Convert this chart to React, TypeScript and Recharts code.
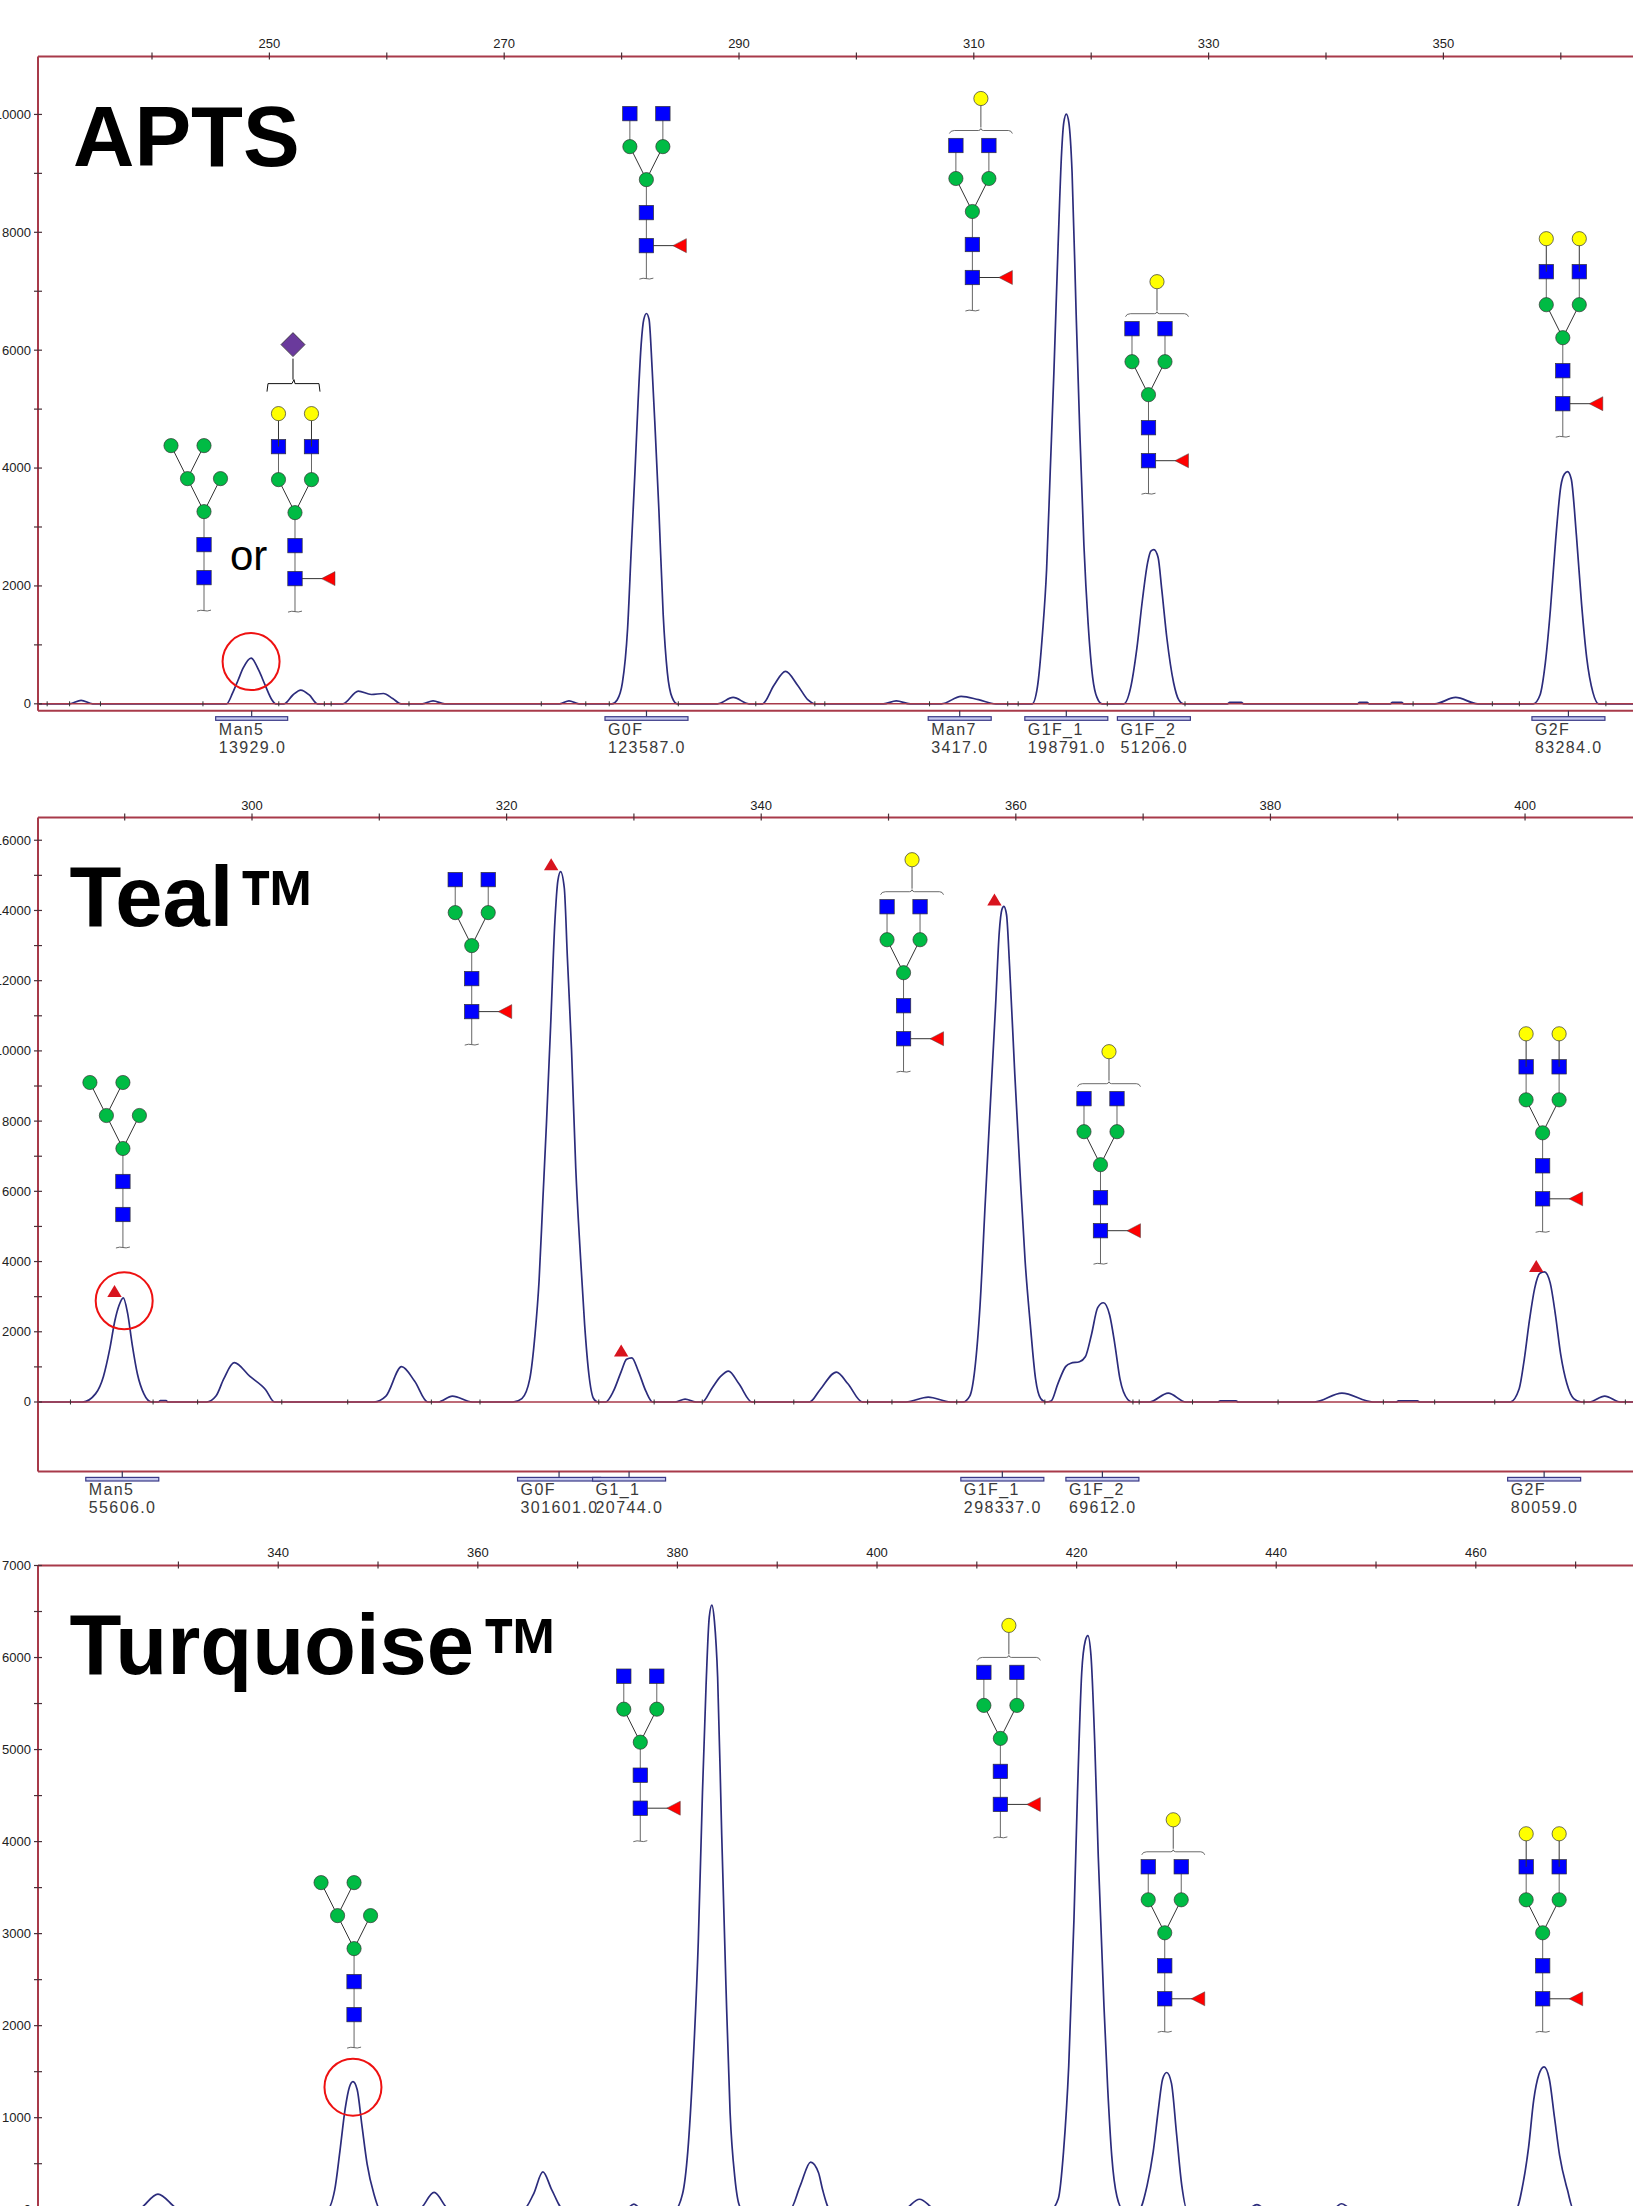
import React from "react";
import { LineChart, Line, XAxis, YAxis, ReferenceLine, ReferenceDot } from "recharts";

type Pt = [number, number];

const aptsTrace: Pt[] = [
  [230.3,0],[232.98,0],[233.96,58],[234.94,0],[246.35,0],[246.88,190],[247.33,400],[247.77,608],[248.44,775],[249.1,566],[249.64,316],[250.22,66],[250.53,0],
  [251.25,0],[252.0,150],[252.67,233],[253.4,150],[254.1,0],[256.24,0],[257.57,216],[258.69,158],[259.71,175],[260.5,90],[261.22,0],[263.03,0],[263.94,50],[264.94,0],
  [274.72,0],[275.52,50],[276.37,0],[279.18,0],[279.62,66],[280.07,358],[280.51,1274],[280.82,2607],[281.14,3940],[281.4,5106],[281.67,6106],[281.89,6522],[282.12,6622],[282.34,6522],[282.6,5689],[282.87,4606],[283.18,3274],[283.54,1524],[283.9,525],[284.3,108],[284.74,0],
  [288.17,0],[289.5,108],[290.85,0],[292.0,0],[292.98,316],[293.96,550],[294.99,316],[295.88,66],[296.46,0],[302.3,0],[303.4,50],[304.59,0],[307.24,0],[308.92,125],[310.4,70],[311.88,0],
  [314.97,0],[315.41,275],[315.85,1191],[316.2,2274],[316.51,3940],[316.82,5606],[317.18,7772],[317.48,9355],[317.66,9855],[317.88,10004],[318.1,9855],[318.37,9022],[318.72,6606],[319.03,4606],[319.38,2691],[319.74,1358],[320.13,441],[320.49,108],[320.93,0],
  [322.78,0],[323.36,275],[323.89,941],[324.37,1774],[324.81,2399],[325.08,2591],[325.34,2616],[325.7,2482],[326.01,1941],[326.45,1108],[327.02,358],[327.46,66],[327.86,0],
  [331.61,0],[331.8,25],[332.8,25],[332.98,0],[342.7,0],[342.85,25],[343.5,25],[343.67,0],[345.48,0],[345.65,25],[346.45,25],[346.62,0],[349.27,0],[351.04,108],[352.94,0],
  [357.66,0],[358.23,150],[358.68,691],[359.12,1608],[359.56,2774],[360.0,3690],[360.31,3898],[360.58,3940],[360.89,3815],[361.33,2857],[361.77,1691],[362.21,775],[362.74,190],[363.23,0],[366.2,0],
];

const tealTrace: Pt[] = [
  [283.2,0],[286.69,0],[287.72,238],[288.33,727],[288.82,1497],[289.24,2336],[289.56,2756],[289.89,2966],[290.22,2546],[290.59,1637],[291.0,797],[291.5,238],[292.11,0],[292.65,0],[292.8,40],[293.25,40],[293.39,0],
  [296.43,0],[297.17,168],[297.78,657],[298.6,1119],[299.84,727],[301.07,350],[301.77,0],[309.57,0],[310.52,168],[311.75,1007],[312.78,588],[313.8,0],[314.63,0],[315.74,168],[317.3,0],
  [320.5,0],[321.2,98],[321.82,657],[322.23,1917],[322.55,3455],[322.84,5694],[323.13,7932],[323.46,10730],[323.79,13668],[324.03,14857],[324.24,15109],[324.53,14647],[324.77,12689],[325.1,10031],[325.43,6673],[325.8,4155],[326.13,2196],[326.46,797],[326.83,98],[327.16,0],
  [327.77,0],[328.39,308],[329.0,867],[329.42,1217],[329.83,1259],[330.36,867],[330.94,308],[331.47,0],[333.24,0],[334.02,84],[334.88,0],[335.37,0],[336.11,378],[336.81,727],[337.43,881],[338.25,518],[339.28,0],
  [343.8,0],[344.62,350],[345.91,853],[346.81,518],[347.95,0],[351.37,0],[353.12,140],[354.87,0],
  [355.85,0],[356.38,168],[356.78,937],[357.19,2756],[357.6,5694],[358.0,8492],[358.41,11290],[358.7,13388],[358.9,14018],[359.06,14116],[359.27,13878],[359.51,12409],[359.92,9331],[360.33,6533],[360.73,4015],[361.14,2196],[361.55,657],[361.95,98],[362.36,0],
  [362.77,28],[363.3,518],[363.91,1007],[364.32,1105],[365.0,1147],[365.46,1287],[365.94,1917],[366.43,2686],[366.88,2826],[367.37,2476],[367.78,1637],[368.18,657],[368.79,70],[369.12,0],
  [370.5,0],[371.97,252],[373.36,0],[375.88,0],[376.05,30],[377.3,30],[377.47,0],[383.45,0],[385.61,252],[388.05,0],[389.89,0],[390.05,30],[391.55,30],[391.72,0],
  [398.84,0],[399.54,378],[399.94,1217],[400.35,2336],[400.76,3245],[401.17,3665],[401.53,3707],[401.98,3385],[402.39,2476],[402.8,1357],[403.29,518],[403.82,98],[404.43,0],[405.04,0],[406.26,168],[407.48,0],[408.7,0],
];

const turquoiseTrace: Pt[] = [
  [315.9,0],[325.85,0],[327.95,170],[330.2,0],[344.87,0],[345.66,216],[346.18,634],[346.71,1098],[347.13,1331],[347.49,1391],[347.91,1307],[348.39,913],[348.91,495],[349.59,170],[350.22,0],
  [354.05,0],[355.62,188],[357.19,0],[364.53,0],[365.58,170],[366.52,411],[367.41,216],[368.62,0],[374.75,0],[375.64,60],[376.48,0],
  [379.73,0],[380.51,170],[381.04,634],[381.56,1563],[382.09,2909],[382.51,4535],[382.87,5696],[383.19,6439],[383.45,6569],[383.71,6393],[384.03,5789],[384.44,4070],[384.86,2445],[385.28,1052],[385.75,355],[386.28,30],[386.65,0],
  [391.26,0],[392.31,262],[393.35,518],[394.14,402],[394.55,216],[395.32,0],[402.6,0],[404.26,114],[405.97,0],
  [417.39,0],[418.17,123],[418.69,634],[419.21,1563],[419.73,3141],[420.09,4535],[420.51,5835],[420.87,6183],[421.13,6239],[421.44,6021],[421.81,5092],[422.17,3838],[422.74,2213],[423.11,1331],[423.52,585],[424.04,144],[424.67,0],
  [426.23,0],[427.06,262],[427.68,634],[428.2,1098],[428.62,1421],[429.03,1491],[429.5,1375],[430.02,817],[430.54,262],[431.06,0],[437.03,0],[438.07,56],[439.01,0],[445.6,0],[446.54,65],[447.68,0],
  [463.99,0],[464.77,308],[465.29,680],[465.8,1191],[466.32,1469],[466.84,1553],[467.36,1423],[467.88,1005],[468.4,587],[469.18,216],[469.8,0],[475.8,0],
];

const aptsXTicks = [240,250,260,270,280,290,300,310,320,330,340,350,360];
const aptsXLabels = [250,270,290,310,330,350];
const aptsYTicks = [0,1000,2000,3000,4000,5000,6000,7000,8000,9000,10000];
const aptsYLabels = [0,2000,4000,6000,8000,10000];

const tealXTicks = [290,300,310,320,330,340,350,360,370,380,390,400];
const tealXLabels = [300,320,340,360,380,400];
const tealYTicks = [0,1000,2000,3000,4000,5000,6000,7000,8000,9000,10000,11000,12000,13000,14000,15000,16000];
const tealYLabels = [0,2000,4000,6000,8000,10000,12000,14000,16000];

const turqXTicks = [330,340,350,360,370,380,390,400,410,420,430,440,450,460,470];
const turqXLabels = [340,360,380,400,420,440,460];
const turqYTicks = [0,500,1000,1500,2000,2500,3000,3500,4000,4500,5000,5500,6000,6500,7000];
const turqYLabels = [0,1000,2000,3000,4000,5000,6000,7000];

const aptsPeaks = [
  { name: "Man5", area: "13929.0", rt: 248.49, bar: 72 },
  { name: "G0F", area: "123587.0", rt: 282.12, bar: 83 },
  { name: "Man7", area: "3417.0", rt: 308.8, bar: 63 },
  { name: "G1F_1", area: "198791.0", rt: 317.88, bar: 83 },
  { name: "G1F_2", area: "51206.0", rt: 325.34, bar: 73 },
  { name: "G2F", area: "83284.0", rt: 360.65, bar: 73 },
];
const tealPeaks = [
  { name: "Man5", area: "55606.0", rt: 289.81, bar: 73 },
  { name: "G0F", area: "301601.0", rt: 324.12, bar: 83 },
  { name: "G1_1", area: "20744.0", rt: 329.62, bar: 73 },
  { name: "G1F_1", area: "298337.0", rt: 358.94, bar: 83 },
  { name: "G1F_2", area: "69612.0", rt: 366.8, bar: 73 },
  { name: "G2F", area: "80059.0", rt: 401.5, bar: 73 },
];

const aptsBaseTicks = [231.07,232.98,235.61,244.34,250.8,254.68,255.26,261.89,273.16,276.95,278.95,284.83,291.43,296.46,297.31,306.23,312.89,313.78,321.37,327.99,347.42,354.17,356.47,363.84];
const tealBaseTicks = [285.74,292.23,295.73,302.34,307.52,314.09,317.91,327.24,331.59,335.37,339.48,342.56,348.36,350.27,355.36,362.28,369.2,369.69,373.88,380.6,388.87,392.9,397.62,404.63,407.88];

const tealMarkers: Pt[] = [[289.2,3148],[323.5,15305],[329.0,1455],[358.32,14298],[400.88,3861]];

const aptsCircle: Pt = [248.44,716];
const tealCircle: Pt = [289.96,2882];
const turqCircle: Pt = [347.49,1331];

type G = { kind: string; at: Pt };
const aptsGlycans: G[] = [
  { kind: "man5", at: [244.43,2141] },
  { kind: "sialyl", at: [252.18,2124] },
  { kind: "g0f", at: [282.11,7774] },
  { kind: "g1f", at: [309.88,7233] },
  { kind: "g1f", at: [324.88,4125] },
  { kind: "g2f", at: [360.17,5092] },
];
const tealGlycans: G[] = [
  { kind: "man5", at: [289.86,5340] },
  { kind: "g0f", at: [317.26,11119] },
  { kind: "g1f", at: [351.18,10347] },
  { kind: "g1f", at: [366.65,4879] },
  { kind: "g2f", at: [401.38,5787] },
];
const turqGlycans: G[] = [
  { kind: "man5", at: [347.6,2120] },
  { kind: "g0f", at: [376.28,4363] },
  { kind: "g1f", at: [412.36,4404] },
  { kind: "g1f", at: [428.83,2292] },
  { kind: "g2f", at: [466.7,2292] },
];

const titles = [
  { text: "APTS", x: 73, y: 165.5, mark: false, markX: 0 },
  { text: "Teal", x: 69.6, y: 925.7, mark: true, markX: 237.5 },
  { text: "Turquoise", x: 69.6, y: 1673.6, mark: true, markX: 480.5 },
];

const FRAME = "#a83a4a";
const TRACE = "#2c2c7c";
const LABEL_FONT = "'Liberation Sans', Arial, sans-serif";

const Sq = ({ x, y }: { x: number; y: number }) => (
  <rect x={x - 7.2} y={y - 7.2} width={14.4} height={14.4} fill="#0000ff" stroke="#333" strokeWidth={0.7} />
);
const Ci = ({ x, y, c }: { x: number; y: number; c: string }) => (
  <circle cx={x} cy={y} r={7.1} fill={c} stroke="#333" strokeWidth={0.7} />
);
const GREEN = "#00bb44";
const YELLOW = "#ffff00";

function Glycan({ cx, cy, kind }: { cx: number; cy: number; kind: string }) {
  const line = (x1: number, y1: number, x2: number, y2: number, k = "#333") => (
    <line x1={x1} y1={y1} x2={x2} y2={y2} stroke={k} strokeWidth={1} />
  );
  const isMan = kind === "man5";
  const hasFuc = kind !== "man5";
  return (
    <g transform={`translate(${cx},${cy})`}>
      {line(0, 33, 0, -66, "#666")}
      <path d="M-7 33.5 Q-3 32 0 33 Q3 34 7 32.5" fill="none" stroke="#444" strokeWidth={0.8} />
      {hasFuc && line(0, 0, 28, 0)}
      {hasFuc && <polygon points="26.5,0 40,-7 40,7" fill="#ff0000" stroke="#444" strokeWidth={0.5} />}
      {line(0, -66, -16.5, -99)}
      {line(0, -66, 16.5, -99)}
      {isMan && line(-16.5, -99, -33, -132)}
      {isMan && line(-16.5, -99, 0, -132)}
      {!isMan && line(-16.5, -99, -16.5, -132, "#666")}
      {!isMan && line(16.5, -99, 16.5, -132, "#666")}
      <Sq x={0} y={0} />
      <Sq x={0} y={-33} />
      <Ci x={0} y={-66} c={GREEN} />
      <Ci x={-16.5} y={-99} c={GREEN} />
      <Ci x={16.5} y={-99} c={GREEN} />
      {isMan && <Ci x={-33} y={-132} c={GREEN} />}
      {isMan && <Ci x={0} y={-132} c={GREEN} />}
      {!isMan && <Sq x={-16.5} y={-132} />}
      {!isMan && <Sq x={16.5} y={-132} />}
      {(kind === "g2f" || kind === "sialyl") && (
        <g>
          {line(-16.5, -132, -16.5, -165)}
          {line(16.5, -132, 16.5, -165)}
          <Ci x={-16.5} y={-165} c={YELLOW} />
          <Ci x={16.5} y={-165} c={YELLOW} />
        </g>
      )}
      {kind === "g1f" && (
        <g>
          <path d="M-23 -144 Q-22 -147 -18 -147 L6 -147 Q8 -147 8.5 -149 Q9 -147 11 -147 L36 -147 Q39 -147 40 -144" fill="none" stroke="#444" strokeWidth={0.8} />
          {line(8.5, -150, 8.5, -172, "#555")}
          <Ci x={8.5} y={-179} c={YELLOW} />
        </g>
      )}
      {kind === "sialyl" && (
        <g>
          <path d="M-28 -187 L-27 -195 L-3 -195 L-1 -199 L0 -195 L24 -195 L25 -187" fill="none" stroke="#111" strokeWidth={1} />
          {line(-2, -199, -2, -220, "#111")}
          <polygon points="-2,-246 10,-234 -2,-222 -14,-234" fill="#6a3a9c" stroke="#333" strokeWidth={0.8} />
        </g>
      )}
    </g>
  );
}

function PeakLabel({ cx, cy, name, area, bar }: { cx: number; cy: number; name: string; area: string; bar: number }) {
  const left = cx - bar / 2;
  const textStyle = { fontFamily: LABEL_FONT, fontSize: 16, letterSpacing: 1.4, fill: "#3a3a3a" };
  return (
    <g>
      <line x1={cx} y1={cy} x2={cx} y2={cy + 6} stroke="#335" strokeWidth={1.2} />
      <rect x={left} y={cy + 6} width={bar} height={3.6} fill="#c4c8ee" stroke="#3a3a88" strokeWidth={1.2} />
      <text x={left + 3} y={cy + 24} {...textStyle}>{name}</text>
      <text x={left + 3} y={cy + 42} {...textStyle}>{area}</text>
    </g>
  );
}

function XTick({ x, y, payload, labels }: any) {
  const show = labels.includes(payload.value);
  return (
    <g>
      <line x1={x} y1={y - 4} x2={x} y2={y + 3} stroke="#4a3038" strokeWidth={1.2} />
      {show && (
        <text x={x} y={y - 11.5} textAnchor="middle" dominantBaseline="middle" fontFamily={LABEL_FONT} fontSize={13} fill="#222">
          {payload.value}
        </text>
      )}
    </g>
  );
}

function YTick({ x, y, payload, labels }: any) {
  const show = labels.includes(payload.value);
  return (
    <g>
      <line x1={x - 4} y1={y} x2={x + 4} y2={y} stroke="#4a3038" strokeWidth={1.2} />
      {show && (
        <text x={x - 7} y={y + 1} textAnchor="end" dominantBaseline="middle" fontFamily={LABEL_FONT} fontSize={13} fill="#222">
          {payload.value}
        </text>
      )}
    </g>
  );
}

type PanelProps = {
  top: number;
  height: number;
  axisTop: number;
  marginBottom: number;
  xDomain: [number, number];
  yDomain: [number, number];
  trace: Pt[];
  xTicks: number[];
  xLabels: number[];
  yTicks: number[];
  yLabels: number[];
  peaks?: { name: string; area: string; rt: number; bar: number }[];
  baseTicks?: number[];
  markers?: Pt[];
  circle: Pt;
  glycans: G[];
};

function Panel(p: PanelProps) {
  const rows = p.trace.map(([t, s]) => ({ t, s }));
  return (
    <div style={{ position: "absolute", left: 0, top: p.top }}>
      <LineChart width={1633} height={p.height} data={rows} margin={{ top: 0, right: 0, bottom: p.marginBottom, left: 0 }}>
        <XAxis
          dataKey="t"
          type="number"
          orientation="top"
          height={p.axisTop}
          domain={p.xDomain}
          allowDataOverflow
          ticks={p.xTicks}
          interval={0}
          tickLine={false}
          tickSize={0}
          tickMargin={0}
          axisLine={{ stroke: FRAME, strokeWidth: 2 }}
          tick={<XTick labels={p.xLabels} />}
        />
        <YAxis
          type="number"
          width={38}
          domain={p.yDomain}
          allowDataOverflow
          ticks={p.yTicks}
          interval={0}
          tickLine={false}
          tickSize={0}
          tickMargin={0}
          axisLine={{ stroke: FRAME, strokeWidth: 2 }}
          tick={<YTick labels={p.yLabels} />}
        />
        <Line dataKey="s" type="monotone" stroke={TRACE} strokeWidth={1.7} dot={false} isAnimationActive={false} />
        <ReferenceLine y={0} stroke={FRAME} strokeWidth={1.5} />
        <ReferenceLine y={p.yDomain[0]} stroke={FRAME} strokeWidth={2} ifOverflow="visible" />
        {(p.baseTicks || []).map((t) => (
          <ReferenceDot
            key={`b${t}`}
            x={t}
            y={0}
            ifOverflow="visible"
            shape={(s: any) => <line x1={s.cx} y1={s.cy - 2.5} x2={s.cx} y2={s.cy + 2.5} stroke="#333" strokeWidth={1} />}
          />
        ))}
        {(p.peaks || []).map((k) => (
          <ReferenceDot
            key={k.name}
            x={k.rt}
            y={p.yDomain[0]}
            ifOverflow="visible"
            shape={(s: any) => <PeakLabel cx={s.cx} cy={s.cy} name={k.name} area={k.area} bar={k.bar} />}
          />
        ))}
        {(p.markers || []).map(([t, v]) => (
          <ReferenceDot
            key={`m${t}`}
            x={t}
            y={v}
            ifOverflow="visible"
            shape={(s: any) => (
              <polygon points={`${s.cx},${s.cy - 6.5} ${s.cx + 7.2},${s.cy + 5.5} ${s.cx - 7.2},${s.cy + 5.5}`} fill="#d8141e" />
            )}
          />
        ))}
        <ReferenceDot
          x={p.circle[0]}
          y={p.circle[1]}
          ifOverflow="visible"
          shape={(s: any) => <circle cx={s.cx} cy={s.cy} r={28.5} fill="none" stroke="#ee1111" strokeWidth={2} />}
        />
        {p.glycans.map((g, i) => (
          <ReferenceDot
            key={`g${i}`}
            x={g.at[0]}
            y={g.at[1]}
            ifOverflow="visible"
            shape={(s: any) => <Glycan cx={s.cx} cy={s.cy} kind={g.kind} />}
          />
        ))}
      </LineChart>
    </div>
  );
}

export default function App() {
  return (
    <div style={{ position: "absolute", left: 0, top: 0, width: 1633, height: 2206, overflow: "hidden", background: "#fff" }}>
      <Panel
        top={0}
        height={770}
        axisTop={56.5}
        marginBottom={59.3}
        xDomain={[230.29, 366.15]}
        yDomain={[-117, 10983]}
        trace={aptsTrace}
        xTicks={aptsXTicks}
        xLabels={aptsXLabels}
        yTicks={aptsYTicks}
        yLabels={aptsYLabels}
        peaks={aptsPeaks}
        baseTicks={aptsBaseTicks}
        circle={aptsCircle}
        glycans={aptsGlycans}
      />
      <Panel
        top={780}
        height={750}
        axisTop={37.6}
        marginBottom={58.6}
        xDomain={[283.19, 408.48]}
        yDomain={[-1977, 16645]}
        trace={tealTrace}
        xTicks={tealXTicks}
        xLabels={tealXLabels}
        yTicks={tealYTicks}
        yLabels={tealYLabels}
        peaks={tealPeaks}
        baseTicks={tealBaseTicks}
        markers={tealMarkers}
        circle={tealCircle}
        glycans={tealGlycans}
      />
      <Panel
        top={1530}
        height={720}
        axisTop={35.5}
        marginBottom={25}
        xDomain={[315.93, 475.75]}
        yDomain={[-166, 7000]}
        trace={turquoiseTrace}
        xTicks={turqXTicks}
        xLabels={turqXLabels}
        yTicks={turqYTicks}
        yLabels={turqYLabels}
        circle={turqCircle}
        glycans={turqGlycans}
      />
      <svg width={1633} height={2206} style={{ position: "absolute", left: 0, top: 0, pointerEvents: "none" }}>
        {titles.map((t) => (
          <g key={t.text}>
            <text x={t.x} y={t.y} fontFamily={LABEL_FONT} fontWeight={700} fontSize={85} fill="#000">
              {t.text}
            </text>
            {t.mark && (
              <text
                transform={`translate(${t.markX},${t.y + 20}) scale(0.96,1.3)`}
                fontFamily={LABEL_FONT}
                fontWeight={700}
                fontSize={84}
                fill="#000"
              >
                ™
              </text>
            )}
          </g>
        ))}
        <text x={230} y={570} fontFamily={LABEL_FONT} fontSize={42} fill="#000">or</text>
      </svg>
    </div>
  );
}
